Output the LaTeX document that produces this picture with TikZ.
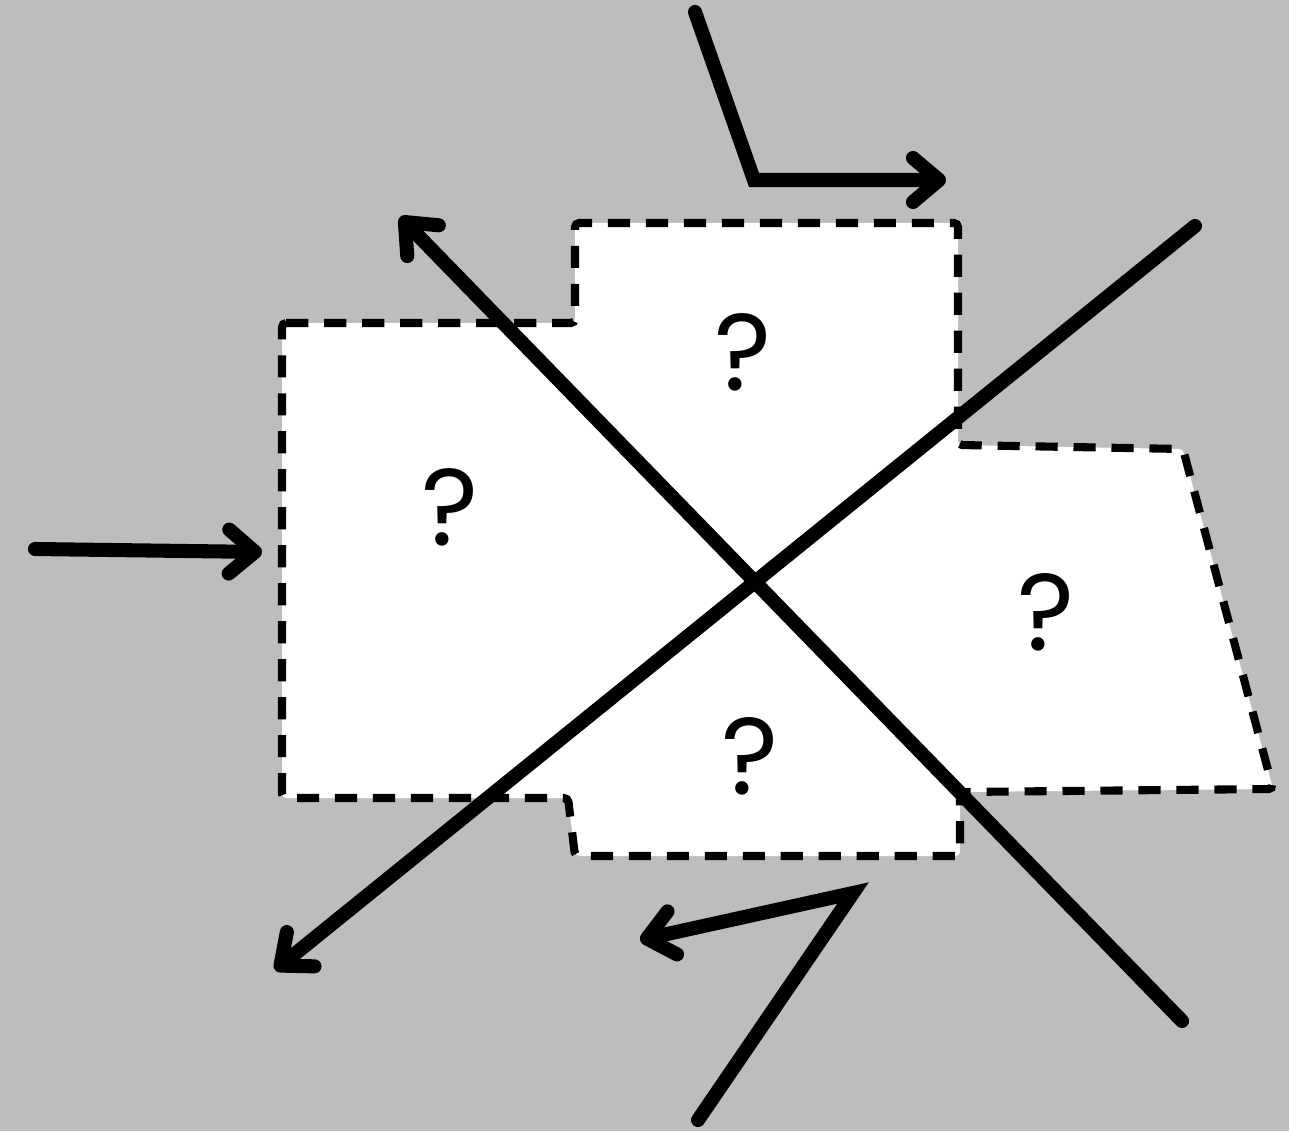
\documentclass[tikz,border=0pt]{standalone}
\usepackage{fontspec}
\setmainfont{Poppins}
\usetikzlibrary{arrows.meta}
\definecolor{bggray}{RGB}{188,189,191}
\tikzset{%
        x=0.01cm,
        y=-0.01cm
}
\tikzstyle{thickline}=[
    draw = black,
    line width = 4pt,
    line cap = round,
    line join = miter
]
\tikzstyle{arrowline}=[
    thickline,
    -{Straight Barb[length=2.6mm, width=4.4mm, round]}
]
\tikzstyle{region}=[
    fill = white,
    draw = black,
    line width = 2.3pt,
    dash pattern = on 6.3pt off 4.5pt,
    rounded corners = 1.2pt
]
\tikzstyle{qmark}=[
    font = \fontsize{31}{36}\selectfont,
    inner sep = 0pt
]

\begin{document}
\begin{tikzpicture}
        \fill[bggray] (0,0) rectangle (1289,1131);
        \useasboundingbox (0,0) rectangle (1289,1131);
        % white area
        \path[region] (282,323) -- (575,323) -- (575,223) -- (958,223)
            -- (958,445) -- (1183,449) -- (1273,789) -- (960,792)
            -- (960,856) -- (575,856) -- (568,798) -- (282,798) -- cycle;
        % line ends
        \coordinate (inL) at (35,549);
        \coordinate (inR) at (262,552);
        \coordinate (topA) at (695,12);
        \coordinate (topB) at (754,180);
        \coordinate (topC) at (946,180);
        \coordinate (botA) at (698,1120);
        \coordinate (botB) at (853,893);
        \coordinate (botC) at (640,940);
        \coordinate (d1s) at (1182,1021);
        \coordinate (d1e) at (400,217);
        \coordinate (d2s) at (1195,226);
        \coordinate (d2e) at (275,970);
        % connectors
        \draw[arrowline] (d1s) -- (d1e);
        \draw[arrowline] (d2s) -- (d2e);
        \draw[arrowline] (inL) -- (inR);
        \draw[arrowline] (topA) -- (topB) -- (topC);
        \draw[arrowline] (botA) -- (botB) -- (botC);
        % unknowns
        \node[qmark] (q1) at (743,352) {?};
        \node[qmark] (q2) at (450,507) {?};
        \node[qmark] (q3) at (1046,612) {?};
        \node[qmark] (q4) at (750,756) {?};
\end{tikzpicture}
\end{document}
